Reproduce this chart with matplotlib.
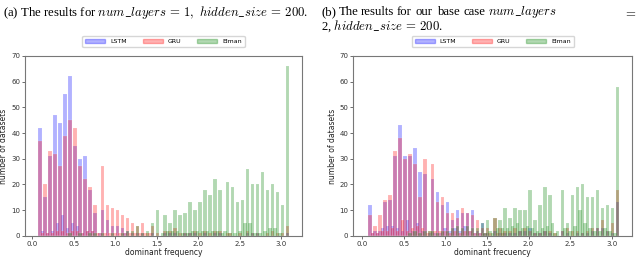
import numpy as np
import matplotlib
matplotlib.use("Agg")
import matplotlib.pyplot as plt
from matplotlib.patches import Patch

plt.rcParams["mathtext.fontset"] = "cm"

# histogram bins (dominant frequency), 100 bins
bin_start = 0.093
bin_width = 0.0301
n_bins = 100

# (a) num_layers = 1
lstm_a = [42, 2, 15, 1, 31, 2, 47, 5, 44, 8, 55, 3, 62, 5, 35, 4, 30, 1, 31, 2,
          18, 2, 9, 0, 1, 10, 0, 6, 0, 4, 0, 4, 0, 3, 1, 2, 0, 1, 0, 1,
          0, 1, 0, 0, 0, 1, 0, 0, 0, 0, 1, 0, 1, 0, 1, 0, 0, 0, 1, 0,
          1, 0, 1, 0, 0, 0, 1, 0, 0, 0, 1, 0, 1, 0, 0, 0, 0, 0, 0, 0,
          0, 0, 0, 1, 0, 1, 0, 1, 0, 0, 0, 0, 0, 0, 0, 0, 0, 0, 0, 1]
gru_a = [37, 1, 20, 1, 33, 1, 32, 2, 27, 2, 39, 1, 45, 2, 42, 2, 27, 1, 22, 2,
         19, 2, 12, 1, 1, 27, 1, 12, 1, 11, 1, 10, 1, 8, 1, 7, 1, 5, 1, 4,
         1, 5, 1, 1, 1, 4, 0, 1, 0, 0, 2, 0, 2, 0, 3, 0, 1, 0, 1, 0,
         1, 0, 2, 0, 1, 0, 2, 0, 1, 0, 2, 0, 2, 0, 0, 1, 1, 0, 0, 0,
         1, 0, 0, 2, 0, 1, 0, 1, 0, 0, 0, 1, 0, 2, 0, 1, 0, 1, 0, 4]
elman_a = [0, 0, 0, 0, 0, 0, 0, 0, 0, 0, 0, 0, 1, 0, 0, 0, 1, 0, 0, 0,
           1, 0, 1, 0, 0, 1, 0, 0, 0, 1, 0, 0, 0, 1, 0, 2, 0, 2, 0, 4,
           0, 1, 0, 2, 0, 5, 0, 10, 0, 1, 8, 2, 5, 2, 10, 2, 8, 1, 9, 1,
           13, 2, 10, 2, 13, 2, 18, 2, 16, 2, 22, 2, 18, 1, 2, 21, 1, 19, 1, 13,
           2, 14, 5, 26, 5, 20, 1, 20, 1, 25, 2, 18, 3, 20, 3, 17, 1, 12, 0, 66]

# (b) base case num_layers = 2
lstm_b = [12, 1, 2, 1, 2, 3, 13, 4, 14, 4, 31, 3, 43, 2, 31, 6, 31, 2, 34, 5,
          25, 2, 24, 0, 1, 22, 1, 17, 1, 12, 3, 13, 2, 6, 3, 10, 2, 9, 4, 9,
          2, 10, 1, 2, 1, 5, 1, 1, 0, 0, 2, 0, 1, 0, 1, 0, 1, 0, 1, 0,
          2, 0, 2, 0, 3, 0, 1, 0, 1, 0, 2, 0, 1, 0, 0, 0, 0, 2, 0, 1,
          0, 0, 0, 1, 0, 1, 0, 1, 0, 2, 0, 3, 0, 3, 0, 2, 0, 1, 0, 13]
gru_b = [8, 1, 4, 1, 8, 2, 14, 2, 16, 3, 33, 2, 38, 6, 30, 2, 32, 3, 28, 4,
         15, 3, 30, 1, 2, 28, 2, 13, 2, 15, 2, 9, 1, 9, 2, 7, 1, 11, 2, 9,
         2, 8, 1, 6, 1, 3, 1, 3, 1, 0, 7, 1, 3, 1, 2, 0, 2, 0, 3, 0,
         2, 0, 3, 0, 2, 0, 1, 0, 1, 0, 2, 0, 2, 0, 1, 0, 0, 2, 0, 3,
         0, 2, 0, 2, 0, 1, 0, 2, 0, 3, 0, 3, 0, 6, 0, 2, 0, 5, 0, 18]
elman_b = [0, 0, 0, 0, 0, 0, 0, 0, 0, 0, 0, 0, 0, 0, 0, 0, 1, 0, 2, 0,
           1, 0, 2, 0, 2, 2, 0, 1, 0, 2, 0, 2, 0, 3, 0, 4, 0, 3, 0, 4,
           0, 3, 0, 3, 0, 5, 1, 6, 2, 1, 7, 3, 6, 3, 11, 3, 7, 4, 11, 5,
           10, 3, 10, 4, 18, 3, 6, 2, 12, 3, 19, 4, 16, 5, 1, 2, 0, 18, 3, 5,
           2, 16, 4, 19, 10, 20, 5, 15, 3, 15, 2, 18, 2, 11, 3, 12, 2, 11, 1, 58]

labels = ["LSTM", "GRU", "Elman"]
colors = ["b", "r", "g"]


def draw_panel(ax, series, xlabel, xlim):
    centers = bin_start + bin_width * np.arange(n_bins)
    for vals, c, lab in zip(series, colors, labels):
        ax.bar(centers, vals, width=bin_width * 1.4, color=c, alpha=0.3,
               edgecolor="white", linewidth=0.3, label=lab)
    ax.set_xlim(*xlim)
    ax.set_ylim(0, 70)
    ax.set_xticks([0.0, 0.5, 1.0, 1.5, 2.0, 2.5, 3.0])
    ax.set_yticks(range(0, 71, 10))
    ax.tick_params(labelsize=5, length=2, width=0.5, pad=1.5,
                   colors="#333333")
    ax.set_xlabel(xlabel, fontsize=5.5, labelpad=1, color="#222222")
    ax.set_ylabel("number of datasets", fontsize=5.5, labelpad=2,
                  color="#222222")
    for s in ax.spines.values():
        s.set_color("#777777")
        s.set_linewidth(0.8)
    handles = [Patch(color=c, alpha=0.3) for c in colors]
    ax.legend(handles, labels, loc="lower center", bbox_to_anchor=(0.5, 1.03),
              ncol=3, fontsize=4.5, handlelength=3.2, handleheight=0.8,
              columnspacing=2.5, frameon=True, edgecolor="#cccccc",
              fancybox=True, borderpad=0.5)


fig = plt.figure(figsize=(6.4, 2.74), dpi=100)
ax1 = fig.add_axes([0.039, 0.139, 0.433, 0.657])
ax2 = fig.add_axes([0.552, 0.139, 0.436, 0.657])

draw_panel(ax1, [lstm_a, gru_a, elman_a], "dominant frequency", (-0.088, 3.25))
draw_panel(ax2, [lstm_b, gru_b, elman_b], "dominant frecuency", (-0.11, 3.25))

# captions
cap = dict(fontsize=9.2, family="Liberation Serif", va="center", ha="left")
fig.text(0.004, 0.955,
         r"(a) The results for $num\_layers\,=\,1,\ hidden\_size\,=\,200$.",
         **cap)
words = ["(b)", "The", "results", "for", "our", "base", "case",
         r"$num\_layers$"]
word_x = [321, 339, 361, 397, 416, 438, 463, 488]
for w, x in zip(words, word_x):
    fig.text(x / 640, 0.955, w, **cap)
fig.text(636 / 640, 0.955, r"$=$", fontsize=9.2, va="center", ha="right")
fig.text(321 / 640, 0.905, r"2, $hidden\_size\,=\,200$.", **cap)

fig.savefig("out.png", dpi=100)
